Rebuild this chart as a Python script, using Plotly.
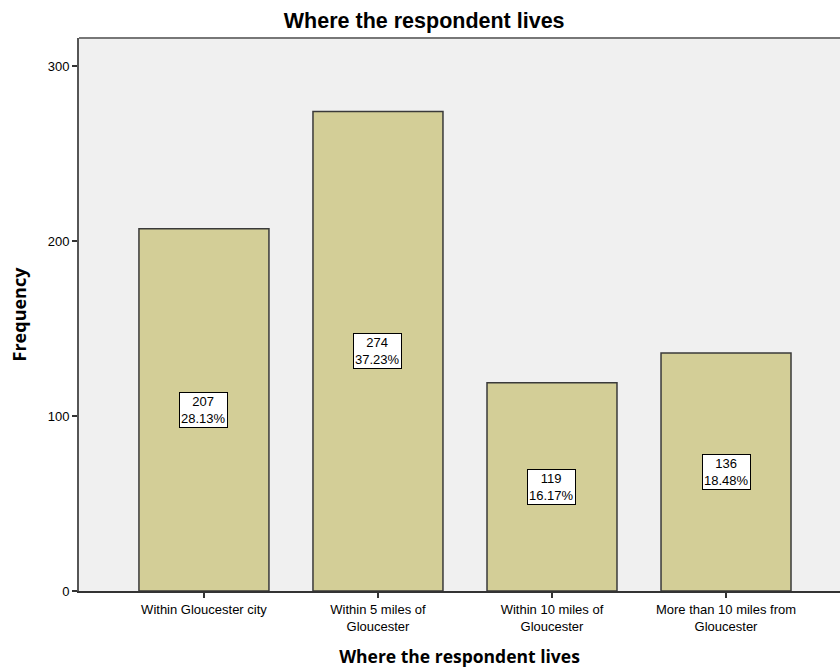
import plotly.graph_objects as go

categories = ["Within Gloucester city", "Within 5 miles of<br>Gloucester",
              "Within 10 miles of<br>Gloucester", "More than 10 miles from<br>Gloucester"]
frequencies = [207, 274, 119, 136]
percents = ["28.13%", "37.23%", "16.17%", "18.48%"]

x_pos = list(range(len(categories)))

fig = go.Figure()
fig.add_trace(go.Bar(
    x=x_pos, y=frequencies, width=0.747,
    marker=dict(color="#d3ce97", line=dict(color="#3a3a3a", width=1.5)),
    hoverinfo="y",
))

# value / percentage boxes at mid-height of each bar
for xi, f, p in zip(x_pos, frequencies, percents):
    fig.add_annotation(
        x=xi, y=f / 2, text=f"{f}<br>{p}", showarrow=False,
        font=dict(family="Liberation Sans, Arial", size=13, color="black"),
        bgcolor="white", bordercolor="black", borderwidth=1, borderpad=1,
    )

# top edge of the plot frame
fig.add_shape(type="line", xref="paper", yref="paper", x0=0, x1=1, y0=1, y1=1,
              line=dict(color="#777777", width=2))

fig.update_layout(
    width=840, height=670,
    margin=dict(l=79, r=0, t=38, b=79),
    paper_bgcolor="white", plot_bgcolor="#f0f0f0",
    showlegend=False,
    title=dict(text="<b>Where the respondent lives</b>", x=0.505, xanchor="center",
               y=0.969, yanchor="middle",
               font=dict(family="Liberation Sans, Arial", size=21.5, color="black")),
    font=dict(family="Liberation Sans, Arial", color="black"),
)

fig.update_xaxes(
    range=[-0.718, 3.655], tickmode="array", tickvals=x_pos, ticktext=categories,
    ticks="outside", ticklen=5, tickwidth=1.5, tickcolor="#333333",
    showline=True, linecolor="#333333", linewidth=2, showgrid=False, zeroline=False,
    tickfont=dict(family="Liberation Sans, Arial", size=13, color="black"),
    title=dict(text="<b>Where the respondent lives</b>", standoff=18,
               font=dict(family="Open Sans", size=17.5, color="black")),
)
fig.update_yaxes(
    range=[0, 316], tickvals=[0, 100, 200, 300],
    ticks="outside", ticklen=5, tickwidth=1.5, tickcolor="#333333",
    showline=True, linecolor="#555555", linewidth=2, showgrid=False, zeroline=False,
    tickfont=dict(family="Liberation Sans, Arial", size=13, color="black"),
    title=dict(text="<b>Frequency</b>", standoff=16,
               font=dict(family="Open Sans", size=18, color="black")),
)

fig.write_html("out.html")
